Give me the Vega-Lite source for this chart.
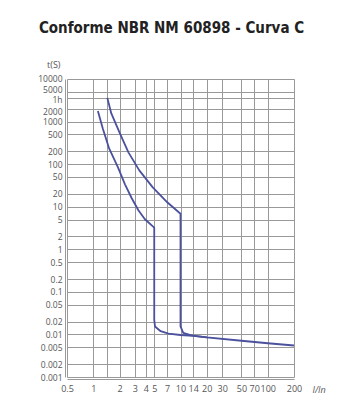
{
  "$schema": "https://vega.github.io/schema/vega-lite/v6.json",
  "width": 227,
  "height": 298,
  "autosize": "none",
  "padding": {"left": 67, "top": 79, "right": 64, "bottom": 43},
  "background": "white",
  "title": {
    "text": "Conforme NBR NM 60898 - Curva C",
    "font": "DejaVu Sans Condensed, Lato, sans-serif",
    "fontSize": 15,
    "fontWeight": "bold",
    "color": "#222222",
    "anchor": "middle",
    "dx": -9,
    "offset": 24
  },
  "config": {"view": {"stroke": null}},
  "data": {
    "values": [
      {"curve": "A", "seq": 1, "I": 1.13, "t": 1760},
      {"curve": "A", "seq": 2, "I": 1.286, "t": 690},
      {"curve": "A", "seq": 3, "I": 1.52, "t": 234},
      {"curve": "A", "seq": 4, "I": 1.92, "t": 84},
      {"curve": "A", "seq": 5, "I": 2.31, "t": 33.6},
      {"curve": "A", "seq": 6, "I": 2.76, "t": 15.8},
      {"curve": "A", "seq": 7, "I": 3.29, "t": 8.24},
      {"curve": "A", "seq": 8, "I": 3.91, "t": 5.07},
      {"curve": "A", "seq": 9, "I": 5, "t": 3.24},
      {"curve": "A", "seq": 10, "I": 5, "t": 0.022},
      {"curve": "A", "seq": 11, "I": 5.1, "t": 0.0154},
      {"curve": "A", "seq": 12, "I": 5.92, "t": 0.0119},
      {"curve": "A", "seq": 13, "I": 7.28, "t": 0.0104},
      {"curve": "A", "seq": 14, "I": 10, "t": 0.0097},
      {"curve": "A", "seq": 15, "I": 14, "t": 0.0093},
      {"curve": "A", "seq": 16, "I": 20, "t": 0.0085},
      {"curve": "A", "seq": 17, "I": 50, "t": 0.0071},
      {"curve": "A", "seq": 18, "I": 100, "t": 0.0062},
      {"curve": "A", "seq": 19, "I": 200, "t": 0.0055},
      {"curve": "B", "seq": 1, "I": 1.45, "t": 3600},
      {"curve": "B", "seq": 2, "I": 1.61, "t": 1552},
      {"curve": "B", "seq": 3, "I": 2.02, "t": 527},
      {"curve": "B", "seq": 4, "I": 2.53, "t": 189},
      {"curve": "B", "seq": 5, "I": 3.37, "t": 71.5},
      {"curve": "B", "seq": 6, "I": 4.81, "t": 28.5},
      {"curve": "B", "seq": 7, "I": 7.05, "t": 12.7},
      {"curve": "B", "seq": 8, "I": 10, "t": 6.82},
      {"curve": "B", "seq": 9, "I": 10, "t": 0.0154},
      {"curve": "B", "seq": 10, "I": 10.75, "t": 0.0109},
      {"curve": "B", "seq": 11, "I": 13.3, "t": 0.0095},
      {"curve": "B", "seq": 12, "I": 20, "t": 0.0085}
    ]
  },
  "mark": {"type": "line", "color": "#4b519d", "strokeWidth": 1.8, "interpolate": "linear", "strokeJoin": "round"},
  "encoding": {
    "x": {
      "field": "I",
      "type": "quantitative",
      "scale": {"type": "log", "domain": [0.5, 200], "nice": false},
      "axis": {
        "values": [0.5, 1, 1.45, 2, 3, 4, 5, 7, 10, 14, 20, 30, 50, 70, 100, 200],
        "format": "~g",
        "labelExpr": "datum.value == 1.45 ? '' : datum.label",
        "ticks": false,
        "offset": 2,
        "domainColor": "#999999",
        "grid": true,
        "gridColor": "#999999",
        "gridWidth": 1,
        "gridOpacity": 1,
        "labelFont": "Open Sans",
        "labelFontSize": 9,
        "labelColor": "#555555",
        "labelPadding": 5,
        "labelOverlap": false,
        "labelFlush": false,
        "title": "I/In",
        "titleFont": "Open Sans",
        "titleFontSize": 9,
        "titleFontWeight": "normal",
        "titleFontStyle": "italic",
        "titleColor": "#555555",
        "titleX": 245,
        "titleY": 13,
        "titleAlign": "left",
        "titleBaseline": "alphabetic"
      }
    },
    "y": {
      "field": "t",
      "type": "quantitative",
      "scale": {"type": "log", "domain": [0.001, 10000], "nice": false},
      "axis": {
        "values": [10000, 5000, 3600, 2000, 1000, 500, 200, 100, 50, 20, 10, 5, 2, 1, 0.5, 0.2, 0.1, 0.05, 0.02, 0.01, 0.005, 0.002, 0.001],
        "format": "~g",
        "labelExpr": "datum.value == 3600 ? '1h' : datum.label",
        "labelOffset": {
          "condition": [
            {"test": "datum.value == 10000", "value": -1},
            {"test": "datum.value == 5000", "value": -2.5},
            {"test": "datum.value == 3600", "value": 2},
            {"test": "datum.value == 2000", "value": 2.5}
          ],
          "value": 0
        },
        "ticks": false,
        "offset": 2,
        "domainColor": "#999999",
        "grid": true,
        "gridColor": "#999999",
        "gridWidth": 1,
        "gridOpacity": 1,
        "labelFont": "Open Sans",
        "labelFontSize": 8.5,
        "labelColor": "#555555",
        "labelPadding": 3,
        "labelOverlap": false,
        "labelFlush": false,
        "title": "t(S)",
        "titleFont": "Open Sans",
        "titleFontSize": 9,
        "titleFontWeight": "normal",
        "titleColor": "#555555",
        "titleAngle": 0,
        "titleX": -5,
        "titleY": -12,
        "titleAlign": "right",
        "titleBaseline": "alphabetic"
      }
    },
    "detail": {"field": "curve"},
    "order": {"field": "seq", "type": "quantitative"}
  }
}
